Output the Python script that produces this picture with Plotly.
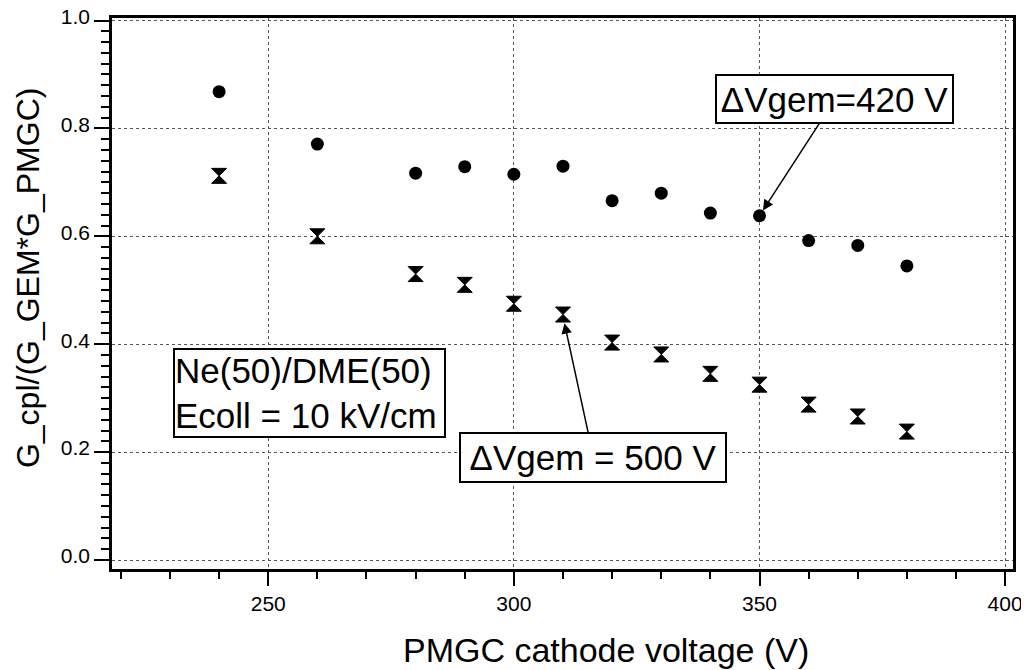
import plotly.graph_objects as go

voltage = [240, 260, 280, 290, 300, 310, 320, 330, 340, 350, 360, 370, 380]
ratio_420 = [0.868, 0.771, 0.717, 0.729, 0.715, 0.730, 0.666, 0.680, 0.643, 0.638, 0.592, 0.583, 0.545]
ratio_500 = [0.712, 0.600, 0.530, 0.510, 0.475, 0.455, 0.403, 0.381, 0.345, 0.325, 0.288, 0.266, 0.238]

x_ticks = [250, 300, 350, 400]
y_ticks = [0.0, 0.2, 0.4, 0.6, 0.8, 1.0]

x_title = "PMGC cathode voltage (V)"
y_title = "G_cpl/(G_GEM*G_PMGC)"

FONT = "Liberation Sans, Arial, Helvetica, sans-serif"

fig = go.Figure()
fig.add_trace(go.Scatter(x=voltage, y=ratio_420, mode="markers",
                         marker=dict(symbol="circle", size=13, color="black"),
                         name="ΔVgem=420 V", showlegend=False))
fig.add_trace(go.Scatter(x=voltage, y=ratio_500, mode="markers",
                         marker=dict(symbol="hourglass", size=15, color="black",
                                     line=dict(width=1, color="black")),
                         name="ΔVgem=500 V", showlegend=False))

box_font = dict(family=FONT, size=35, color="black")
fig.add_annotation(x=350.7, y=0.648, xref="x", yref="y", text="ΔVgem=420 V",
                   showarrow=True, ax=72, ay=-111, arrowhead=2, arrowsize=1.4,
                   arrowwidth=1.5, arrowcolor="black", font=box_font,
                   bordercolor="black", borderwidth=2, borderpad=0,
                   bgcolor="white", width=235, height=46)
fig.add_annotation(x=310.3, y=0.439, xref="x", yref="y", text="ΔVgem = 500 V",
                   showarrow=True, ax=29, ay=134, arrowhead=2, arrowsize=1.4,
                   arrowwidth=1.5, arrowcolor="black", font=box_font,
                   bordercolor="black", borderwidth=2, borderpad=0,
                   bgcolor="white", width=264, height=47)
fig.add_annotation(x=258.4, y=0.309, xref="x", yref="y",
                   text="Ne(50)/DME(50)<br>Ecoll = 10 kV/cm",
                   showarrow=False, align="left", font=box_font,
                   bordercolor="black", borderwidth=2, borderpad=0,
                   bgcolor="white", width=269, height=86)

# axis titles (placed as in the original, off-centre)
fig.add_annotation(x=0.5483, y=-0.147, xref="paper", yref="paper",
                   xanchor="center", yanchor="middle", showarrow=False,
                   text=x_title, font=dict(family=FONT, size=34, color="black"))
fig.add_annotation(x=-0.0932, y=0.528, xref="paper", yref="paper",
                   xanchor="center", yanchor="middle", showarrow=False, textangle=-90,
                   text=y_title, font=dict(family=FONT, size=32, color="black"))

# the page body has an 8px margin, so the figure is shifted by -8px
fig.update_layout(
    width=1021, height=662,
    margin=dict(l=104, r=16, t=10, b=101),
    paper_bgcolor="white", plot_bgcolor="white",
    font=dict(family=FONT, color="black"),
)
fig.update_xaxes(
    range=[218.2, 401.6], tickvals=x_ticks, ticktext=[str(v) for v in x_ticks],
    ticks="outside", ticklen=14, tickwidth=2, tickcolor="black",
    showline=True, linewidth=2.5, linecolor="black", mirror=True,
    showgrid=True, gridcolor="#555555", gridwidth=1, griddash="dot",
    zeroline=False, automargin=False, ticklabeloverflow="allow",
    tickfont=dict(family=FONT, size=21, color="black"),
    minor=dict(dtick=10, tick0=0, ticks="outside", ticklen=7, tickwidth=2,
               tickcolor="black", showgrid=False),
)
fig.update_yaxes(
    range=[-0.01668, 1.00463], tickvals=y_ticks, ticktext=[f"{v:.1f}" for v in y_ticks],
    ticks="outside", ticklen=15, tickwidth=2, tickcolor="black",
    showline=True, linewidth=2.5, linecolor="black", mirror=True,
    showgrid=True, gridcolor="#555555", gridwidth=1, griddash="dot",
    zeroline=False, automargin=False, ticklabeloverflow="allow", ticklabelshift=-4,
    tickfont=dict(family=FONT, size=21, color="black"),
    minor=dict(dtick=0.02, tick0=0, ticks="outside", ticklen=8, tickwidth=2,
               tickcolor="black", showgrid=False),
)

fig.write_html("out.html")
